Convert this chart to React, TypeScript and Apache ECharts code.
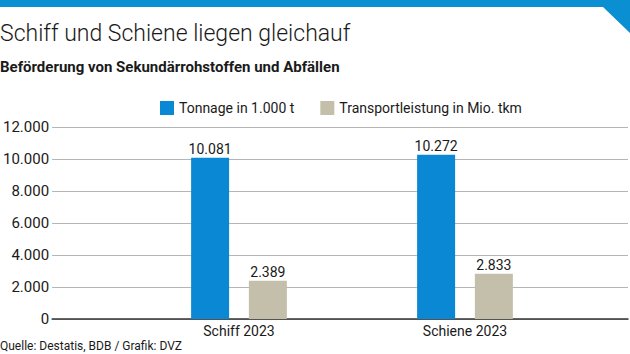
import React, { useEffect, useRef } from "react";
import * as echarts from "echarts";

const categories = ["Schiff 2023", "Schiene 2023"];
const tonnage = [10081, 10272];
const transport = [2389, 2833];
const seriesNames = ["Tonnage in 1.000 t", "Transportleistung in Mio. tkm"];
const yTicks = { min: 0, max: 12000, interval: 2000 };

const fmt = (v: number) => {
  const s = String(Math.round(v));
  return s.replace(/\B(?=(\d{3})+(?!\d))/g, ".");
};

const FONT = "Roboto";

export default function App() {
  const ref = useRef<HTMLDivElement>(null);
  useEffect(() => {
    if (!ref.current) return;
    const chart = echarts.init(ref.current, undefined, { renderer: "svg" });
    chart.setOption({
      animation: false,
      backgroundColor: "#ffffff",
      textStyle: { fontFamily: FONT },
      title: [
        {
          text: "Schiff und Schiene liegen gleichauf",
          left: 0,
          top: 22,
          padding: 0,
          textStyle: { fontSize: 23, fontWeight: 300, color: "#1a1a1a", fontFamily: FONT },
        },
        {
          text: "Beförderung von Sekundärrohstoffen und Abfällen",
          left: 0,
          top: 59,
          padding: 0,
          textStyle: { fontSize: 15, fontWeight: "bold", color: "#1a1a1a", fontFamily: FONT },
        },
        {
          text: "Quelle: Destatis, BDB / Grafik: DVZ",
          left: 0,
          top: 340,
          padding: 0,
          textStyle: { fontSize: 12, fontWeight: "normal", color: "#1a1a1a", fontFamily: FONT },
        },
      ],
      graphic: [
        {
          type: "polygon",
          shape: { points: [[0, 0], [630, 0], [630, 33], [603, 7], [0, 7]] },
          style: { fill: "#0a8fd2" },
        },
      ],
      legend: {
        top: 96,
        left: 155,
        itemWidth: 14,
        itemHeight: 14,
        itemGap: 26,
        icon: "rect",
        textStyle: { fontSize: 14, color: "#1a1a1a", fontFamily: FONT },
        data: seriesNames,
      },
      grid: [
        { left: 50, right: 2, top: 127, bottom: 35, containLabel: false },
        { left: 126, right: 52, top: 127, bottom: 35, containLabel: false },
      ],
      xAxis: [
        {
          type: "category",
          gridIndex: 0,
          data: [""],
          axisLine: { show: true, lineStyle: { color: "#333333", width: 1.5 } },
          axisTick: { show: false },
          axisLabel: { show: false },
        },
        {
          type: "category",
          gridIndex: 1,
          data: categories,
          axisLine: { show: false },
          axisTick: { show: false },
          axisLabel: { fontSize: 14, color: "#1a1a1a", margin: 5, fontFamily: FONT },
        },
      ],
      yAxis: [
        {
          type: "value",
          gridIndex: 0,
          min: yTicks.min,
          max: yTicks.max,
          interval: yTicks.interval,
          axisLine: { show: false },
          axisTick: { show: false },
          axisLabel: {
            fontSize: 15,
            color: "#1a1a1a",
            margin: 3,
            fontFamily: FONT,
            formatter: (v: number) => fmt(v),
          },
          splitLine: { lineStyle: { color: "#b5b5b5", width: 1 } },
        },
        {
          type: "value",
          gridIndex: 1,
          min: yTicks.min,
          max: yTicks.max,
          interval: yTicks.interval,
          show: false,
          splitLine: { show: false },
        },
      ],
      series: [
        {
          name: seriesNames[0],
          type: "bar",
          xAxisIndex: 1,
          yAxisIndex: 1,
          data: tonnage,
          barWidth: 38,
          barGap: "52%",
          itemStyle: { color: "#0a88d4" },
          label: {
            show: true,
            position: "top",
            distance: 2,
            fontSize: 14,
            color: "#1a1a1a",
            fontFamily: FONT,
            formatter: (p: any) => fmt(p.value),
          },
        },
        {
          name: seriesNames[1],
          type: "bar",
          xAxisIndex: 1,
          yAxisIndex: 1,
          data: transport,
          barWidth: 38,
          barGap: "52%",
          itemStyle: { color: "#c4bfab" },
          label: {
            show: true,
            position: "top",
            distance: 2,
            fontSize: 14,
            color: "#1a1a1a",
            fontFamily: FONT,
            formatter: (p: any) => fmt(p.value),
          },
        },
      ],
    });
    return () => chart.dispose();
  }, []);
  return (
    <div
      ref={ref}
      style={{ position: "fixed", left: 0, top: 0, width: 630, height: 354 }}
    />
  );
}
